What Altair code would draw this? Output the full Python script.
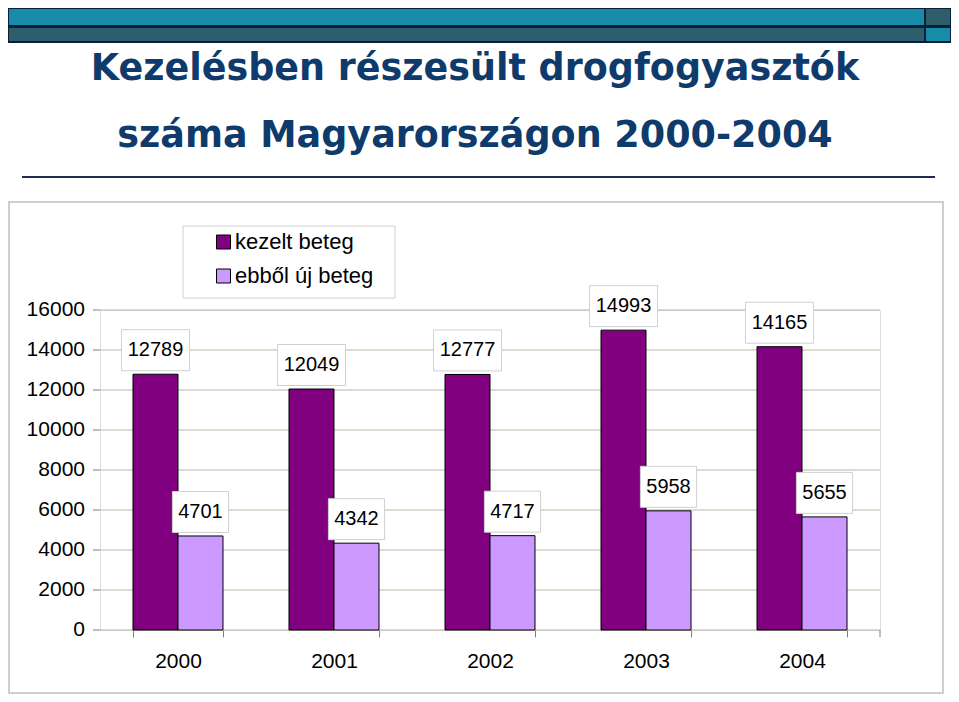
import altair as alt
import pandas as pd

# ---- data ----
years = ["2000", "2001", "2002", "2003", "2004"]
kezelt = [12789, 12049, 12777, 14993, 14165]
uj = [4701, 4342, 4717, 5958, 5655]
series_names = ["kezelt beteg", "ebből új beteg"]
series_colors = ["#800080", "#CC99FF"]
y_ticks = [0, 2000, 4000, 6000, 8000, 10000, 12000, 14000, 16000]
title_lines = ["Kezelésben részesült drogfogyasztók", "száma Magyarországon 2000-2004"]

df = pd.DataFrame({
    "year": years * 2,
    "series": [series_names[0]] * len(years) + [series_names[1]] * len(years),
    "value": kezelt + uj,
})
ticks_df = pd.DataFrame({"value": y_ticks})
one = pd.DataFrame({"k": [0]})

# plot origin on page: (100, 310)
OX, OY = 100, 310
FONT = "Liberation Sans"


def rect(x1, y1, x2, y2, **kw):
    return alt.Chart(one).mark_rect(**kw).encode(
        x=alt.value(x1 - OX), x2=alt.value(x2 - OX),
        y=alt.value(y1 - OY), y2=alt.value(y2 - OY),
    )


# ---- decorations (slide header) ----
header = [
    rect(8, 8, 951, 43, color="#0B1F3A"),
    rect(9, 9, 924, 25, color="#168CA8"),
    rect(9, 28, 924, 41, color="#2C5E6C"),
    rect(926, 9, 950, 25, color="#2C5E6C"),
    rect(926, 28, 950, 41, color="#168CA8"),
]

t1 = alt.Chart(one).mark_text(
    text=title_lines[0], font="DejaVu Sans", fontWeight="bold", fontSize=36.5,
    color="#0F3B6C", align="center", baseline="alphabetic",
).encode(x=alt.value(475 - OX), y=alt.value(80 - OY))
t2 = alt.Chart(one).mark_text(
    text=title_lines[1], font="DejaVu Sans", fontWeight="bold", fontSize=36.5,
    color="#0F3B6C", align="center", baseline="alphabetic",
).encode(x=alt.value(475 - OX), y=alt.value(147 - OY))

hline = alt.Chart(one).mark_rule(color="#1F2A4F", strokeWidth=2).encode(
    x=alt.value(22 - OX), x2=alt.value(935 - OX), y=alt.value(177 - OY)
)

chart_box = rect(9, 202, 943, 693, fill="white", fillOpacity=0,
                 stroke="#BFBFBF", strokeWidth=1.5)
legend_box = rect(183, 226, 395, 298, fill="white", stroke="#D0D0D0", strokeWidth=1)

# ---- scales / encodings ----
y_scale = alt.Scale(domain=[0, 16000], nice=False)
x_enc = alt.X(
    "year:N",
    scale=alt.Scale(domain=years, paddingInner=0.4231, paddingOuter=0.2115),
    axis=alt.Axis(
        title=None, labelAngle=0, tickBand="extent", ticks=True, tickSize=7,
        tickColor="#808080", domain=False, grid=False,
        labelFontSize=21, labelFont=FONT, labelColor="black", labelPadding=13,
    ),
)
xo_enc = alt.XOffset("series:N", scale=alt.Scale(domain=series_names, paddingInner=0, paddingOuter=0))
y_enc = alt.Y("value:Q", scale=y_scale, axis=None)

# y gridlines, ticks and labels through the y scale
grid = alt.Chart(ticks_df).mark_rule(color="#B8B8A0", strokeWidth=1).encode(
    y=y_enc, x=alt.value(0), x2=alt.value(780)
)
yticks = alt.Chart(ticks_df).mark_rule(color="#808080", strokeWidth=1).encode(
    y=y_enc, x=alt.value(-7), x2=alt.value(0)
)
ylabels = alt.Chart(ticks_df).mark_text(
    font=FONT, fontSize=21, color="black", align="right", baseline="middle"
).encode(y=y_enc, x=alt.value(-15), text=alt.Text("value:Q", format="d"))

bars = alt.Chart(df).mark_bar(stroke="black", strokeWidth=1, opacity=1).encode(
    x=x_enc, xOffset=xo_enc, y=y_enc,
    color=alt.Color(
        "series:N",
        scale=alt.Scale(domain=series_names, range=series_colors),
        legend=alt.Legend(
            orient="none", legendX=112.5, legendY=-79, title=None,
            symbolType="square", symbolSize=196, symbolStrokeColor="black",
            symbolStrokeWidth=1, symbolOpacity=1,
            labelFontSize=22, labelFont=FONT, labelColor="black",
            rowPadding=12, labelOffset=0.5, padding=0,
        ),
    ),
)

box5 = "M-1.66,-1L1.66,-1L1.66,1L-1.66,1Z"
box4 = "M-1.37,-1L1.37,-1L1.37,1L-1.37,1Z"


def boxes(series, path):
    return alt.Chart(df).transform_filter(
        alt.datum.series == series
    ).mark_point(
        shape=path, filled=True, fill="white", stroke="#D0D0D0", strokeWidth=1,
        opacity=1, size=1681, yOffset=-24,
    ).encode(x=x_enc, xOffset=xo_enc, y=y_enc)


label_boxes = [boxes(series_names[0], box5), boxes(series_names[1], box4)]

label_text = alt.Chart(df).mark_text(
    fontSize=20, font=FONT, color="black", baseline="middle", align="center", yOffset=-24,
).encode(
    x=x_enc, xOffset=xo_enc, y=y_enc, text=alt.Text("value:Q", format="d"),
)

end_tick = alt.Chart(one).mark_rule(color="#808080", strokeWidth=1).encode(
    x=alt.value(780), y=alt.value(320), y2=alt.value(327)
)

chart = alt.layer(
    *header, t1, t2, hline, chart_box, legend_box,
    grid, yticks, ylabels,
    bars, *label_boxes, label_text, end_tick,
).properties(
    width=780, height=320,
    padding={"left": 92, "top": 302, "right": 71, "bottom": 64},
    autosize=alt.AutoSizeParams(type="none"),
).configure_view(
    fill="#FFFFCC", stroke="#808080", strokeWidth=1
).configure(background="white")

chart.save("out.html", embed_options={"renderer": "svg", "actions": False})
